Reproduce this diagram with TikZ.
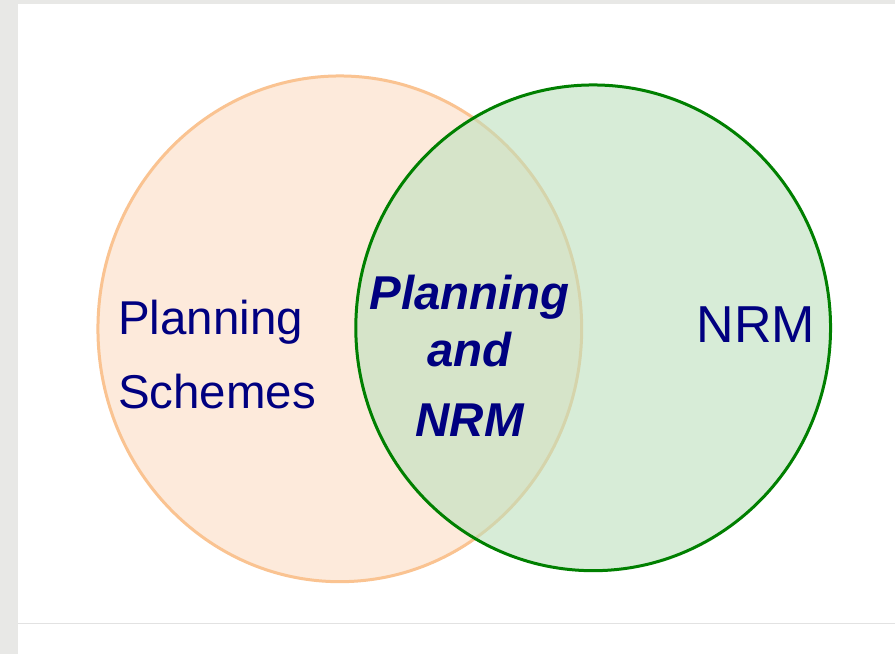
\documentclass[tikz,border=0pt]{standalone}
\usepackage{fontspec}
\setmainfont{Liberation Sans}

\definecolor{pagegray}{HTML}{E8E8E6}
\definecolor{ruleline}{HTML}{E2E2E2}
\definecolor{peachfill}{HTML}{FDEADB}
\definecolor{peachline}{HTML}{FAC391}
\definecolor{leaffill}{HTML}{BDE0BD}
\definecolor{leafline}{HTML}{008000}
\definecolor{navytext}{HTML}{000080}

\begin{document}
\begin{tikzpicture}[x=1pt, y=-1pt,
		plan_style/.style={fill=peachfill},
		plan_edge/.style={draw=peachline, line width=3pt},
		nrm_style/.style={fill=leaffill, fill opacity=0.6},
		nrm_edge/.style={draw=leafline, line width=3pt},
		label_style/.style={text=navytext, inner sep=0pt, font=\fontsize{47.5}{74}\selectfont},
		both_style/.style={text=navytext, inner sep=0pt, align=center, font=\fontsize{47.5}{57}\selectfont\bfseries\itshape}]
		
		% page and margins
		\fill[pagegray] (0,0) rectangle (895,654);
		\fill[white] (18,4) rectangle (895,654);
		\draw[ruleline, line width=1pt] (18,624) -- (895,624);
		
		% the two sets
		\path[plan_style] (340,329) ellipse [x radius=242, y radius=253];
		\path[plan_edge] (340,329) ellipse [x radius=242, y radius=253];
		\path[nrm_style] (593.5,328) ellipse [x radius=237.5, y radius=243];
		\path[nrm_edge] (593.5,328) ellipse [x radius=237.5, y radius=243];
		
		\node[label_style, anchor=base west, align=left] (plan) at (118,409) {Planning\\Schemes};
		\node[label_style, anchor=base west, font=\fontsize{52}{60}\selectfont] (nrm) at (697,343) {NRM};
		\node[both_style, anchor=base] (both) at (470,437) {Planning\\and\\[13pt]NRM};
		
\end{tikzpicture}
\end{document}
